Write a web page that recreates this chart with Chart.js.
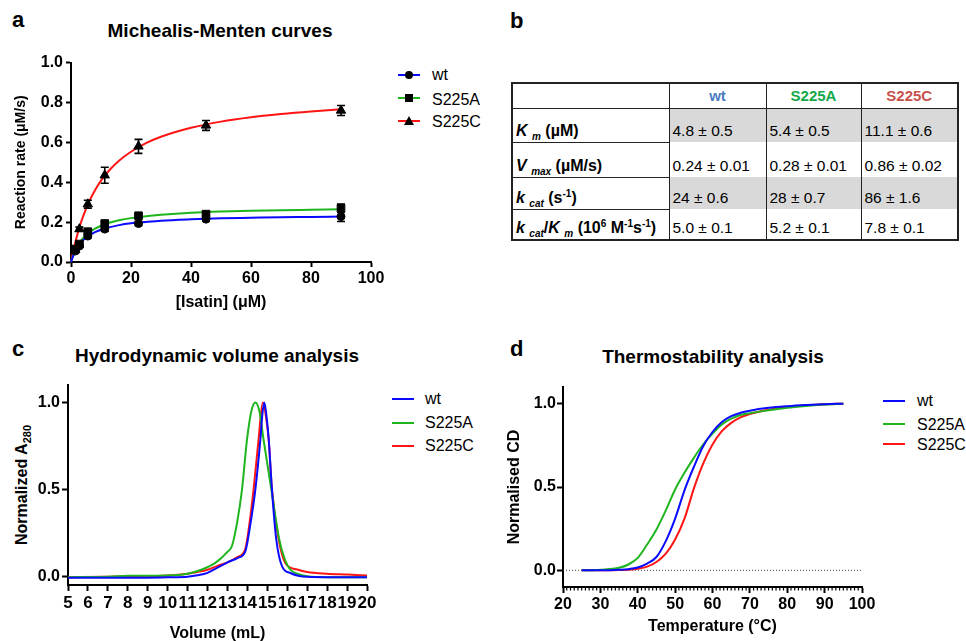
<!DOCTYPE html>
<html><head><meta charset="utf-8">
<script src="https://cdn.jsdelivr.net/npm/chart.js@4.4.0/dist/chart.umd.min.js"></script>
<style>
body{margin:0;width:966px;height:641px;overflow:hidden;background:#fff;position:relative;font-family:'Liberation Sans',Arial,sans-serif;color:#000;}
.abs{position:absolute;white-space:nowrap;}
.plbl{position:absolute;font-weight:bold;font-size:22px;line-height:22px;}
.ttl{position:absolute;font-weight:bold;font-size:19px;line-height:19px;white-space:nowrap;transform:translateX(-50%);}
canvas{position:absolute;}
.legt{position:absolute;font-size:16px;line-height:16px;white-space:nowrap;}
.legl{position:absolute;height:2px;width:22px;}
.mk{position:absolute;background:#000;}
.ytl{position:absolute;font-weight:bold;font-size:16px;line-height:16px;white-space:nowrap;transform:translate(-50%,-50%) rotate(-90deg);}
.ytl sub{font-size:11px;line-height:0;}
table{position:absolute;border-collapse:collapse;table-layout:fixed;font-size:15.5px;}
td{padding:0 0 2px 3px;vertical-align:bottom;white-space:nowrap;border-left:1.5px solid #222;border-right:1.5px solid #222;}
td.lab{border:1.5px solid #222;font-weight:bold;font-size:16px;}
tr.hd td{border:1.5px solid #222;font-weight:bold;font-size:15px;text-align:center;vertical-align:middle;padding:0;}
td.g{background:#d9d9d9;}
.i{font-style:italic;}
td sub,td sup{font-size:10px;line-height:0;}
</style></head>
<body>
<!-- panel letters and titles -->
<div class="plbl" style="left:12px;top:9px;">a</div>
<div class="plbl" style="left:510px;top:10px;">b</div>
<div class="plbl" style="left:12px;top:338px;">c</div>
<div class="plbl" style="left:510px;top:338px;">d</div>
<div class="ttl" style="left:220px;top:21px;">Michealis-Menten curves</div>
<div class="ttl" style="left:217px;top:346px;">Hydrodynamic volume analysis</div>
<div class="ttl" style="left:713px;top:347px;">Thermostability analysis</div>
<div class="ytl" style="left:22px;top:485px;">Normalized A<sub>280</sub></div>

<canvas id="ca" width="382" height="266" style="left:9px;top:50px;"></canvas>
<canvas id="cc" width="379" height="277" style="left:8px;top:370px;"></canvas>
<canvas id="cd" width="381" height="268" style="left:501px;top:372px;"></canvas>

<div id="legs"></div>
<table id="tbl" style="left:511px;top:82px;width:446px;border:2px solid #222;"></table>

<script>
// ---------- Panel a: Michaelis-Menten ----------
const aConc   = [1.4, 2.8, 5.6, 11.25, 22.5, 45, 90];
const aWt     = [0.055, 0.08, 0.13, 0.165, 0.193, 0.215, 0.228];
const aWtErr  = [0.005, 0.005, 0.01, 0.01, 0.01, 0.01, 0.025];
const aS225A  = [0.065, 0.09, 0.152, 0.193, 0.232, 0.24, 0.27];
const aS225AErr = [0.005, 0.005, 0.01, 0.01, 0.01, 0.01, 0.02];
const aS225C  = [0.06, 0.165, 0.29, 0.435, 0.58, 0.685, 0.76];
const aS225CErr = [0.005, 0.01, 0.02, 0.04, 0.035, 0.025, 0.025];
const aFitX   = [0, 1, 2, 3, 4, 6, 8, 10, 13, 16, 20, 25, 30, 40, 50, 60, 70, 80, 90];
const aFitWt  = [0, 0.041, 0.071, 0.092, 0.109, 0.133, 0.150, 0.162, 0.175, 0.185, 0.194, 0.201, 0.207, 0.214, 0.219, 0.222, 0.225, 0.226, 0.228];
const aFitA   = [0, 0.044, 0.076, 0.100, 0.119, 0.147, 0.167, 0.182, 0.198, 0.209, 0.220, 0.230, 0.237, 0.247, 0.253, 0.257, 0.260, 0.262, 0.264];
const aFitC   = [0, 0.071, 0.131, 0.183, 0.228, 0.302, 0.360, 0.408, 0.464, 0.508, 0.553, 0.596, 0.628, 0.673, 0.704, 0.726, 0.742, 0.755, 0.766];
const aXTicks = [0, 20, 40, 60, 80, 100];
const aYTicks = [0, 0.2, 0.4, 0.6, 0.8, 1.0];

// ---------- Panel b: kinetic table ----------
const tblCols = ['wt', 'S225A', 'S225C'];
const tblColColors = ['#4a7cc4', '#12a84a', '#c8504d'];
const tblRowLabels = [
  '<span class="i">K</span> <sub class="i">m</sub> (µM)',
  '<span class="i">V</span> <sub class="i">max</sub> (µM/s)',
  '<span class="i">k</span> <sub class="i">cat</sub> (s<sup>-1</sup>)',
  '<span class="i">k</span> <sub class="i">cat</sub>/<span class="i">K</span> <sub class="i">m</sub> (10<sup>6</sup> M<sup>-1</sup>s<sup>-1</sup>)'
];
const tblKm   = ['4.8 ± 0.5', '5.4 ± 0.5', '11.1 ± 0.6'];
const tblVmax = ['0.24 ± 0.01', '0.28 ± 0.01', '0.86 ± 0.02'];
const tblKcat = ['24 ± 0.6', '28 ± 0.7', '86 ± 1.6'];
const tblEff  = ['5.0 ± 0.1', '5.2 ± 0.1', '7.8 ± 0.1'];

// ---------- Panel c: SEC traces ----------
const cWtX = [5, 7, 9, 10, 11, 11.5, 12, 12.5, 13, 13.5, 13.9, 14.15, 14.4, 14.65, 14.75, 14.85, 14.95, 15.07, 15.23, 15.45, 15.74, 16.15, 16.6, 17, 18, 20];
const cWtY = [-0.008, -0.008, -0.008, -0.006, -0.002, 0.006, 0.02, 0.05, 0.08, 0.105, 0.145, 0.3, 0.5, 0.786, 0.93, 1.0, 0.93, 0.786, 0.5, 0.211, 0.057, 0.019, 0.002, -0.003, -0.005, -0.005];
const cAX  = [5, 7, 8, 10, 11, 11.72, 12.39, 13, 13.23, 13.5, 13.73, 13.98, 14.2, 14.4, 14.6, 14.81, 15.2, 15.6, 15.9, 16.15, 16.5, 17, 18, 20];
const cAY  = [-0.005, -0.003, 0.003, 0.005, 0.015, 0.039, 0.077, 0.14, 0.176, 0.32, 0.5, 0.786, 0.95, 1.0, 0.95, 0.786, 0.5, 0.211, 0.09, 0.039, 0.015, 0.0, -0.005, -0.005];
const cCX  = [5, 7, 8, 10, 11, 11.5, 12, 12.5, 13, 13.5, 13.9, 14.1, 14.31, 14.56, 14.77, 15.0, 15.07, 15.23, 15.57, 15.9, 16.5, 17, 18, 19, 20];
const cCY  = [-0.005, -0.003, 0.0, 0.005, 0.015, 0.025, 0.038, 0.06, 0.08, 0.11, 0.16, 0.3, 0.5, 0.786, 1.0, 0.86, 0.786, 0.5, 0.211, 0.077, 0.039, 0.025, 0.015, 0.01, 0.004];
const cYTicks = [0, 0.5, 1.0];

// ---------- Panel d: thermal melts ----------
const dTemp = [25, 30, 35, 37.5, 40, 42.5, 45, 47.5, 50, 52.5, 55, 57.5, 60, 62.5, 65, 67.5, 70, 75, 80, 85, 90, 95];
const dWt   = [0, 0, 0.003, 0.007, 0.017, 0.04, 0.08, 0.175, 0.31, 0.48, 0.62, 0.745, 0.83, 0.89, 0.925, 0.945, 0.958, 0.975, 0.985, 0.992, 0.997, 1.0];
const dA    = [0, 0.004, 0.015, 0.035, 0.075, 0.155, 0.245, 0.36, 0.485, 0.585, 0.675, 0.755, 0.82, 0.875, 0.91, 0.932, 0.943, 0.96, 0.975, 0.986, 0.995, 1.0];
const dC    = [0, 0, 0.002, 0.004, 0.01, 0.022, 0.05, 0.1, 0.185, 0.31, 0.49, 0.64, 0.755, 0.835, 0.885, 0.918, 0.938, 0.963, 0.98, 0.99, 0.997, 1.0];
const dYTicks = [0, 0.5, 1.0];

const seriesNames = ['wt', 'S225A', 'S225C'];
const COLORS = ['#0a0aff', '#1fb51f', '#ff1414'];
const FONT = "'Liberation Sans', Arial, sans-serif";

// ---------- helpers ----------
const pts = (xs, ys) => xs.map((x, i) => ({x, y: ys[i]}));
function axis(opts) {
  return {
    type: 'linear', min: opts.min, max: opts.max,
    afterFit: opts.fit,
    afterBuildTicks: opts.ticks ? (s) => { s.ticks = opts.ticks.map(v => ({value: v})); } : undefined,
    ticks: {
      stepSize: opts.step, autoSkip: false, maxRotation: 0, padding: opts.pad,
      color: '#000', font: {family: FONT, size: opts.fsize || 16, weight: 'bold'},
      callback: opts.fmt
    },
    grid: {display: true, drawOnChartArea: false, drawTicks: true, tickLength: opts.tl, tickWidth: 2, tickColor: '#000'},
    border: {display: true, color: '#000', width: 2},
    title: {display: opts.title !== '', text: opts.title, color: '#000', font: {family: FONT, size: opts.tsize || 16, weight: 'bold'}}
  };
}
const baseOpts = (pad, scales, plugins) => ({
  responsive: false, animation: false, events: [],
  layout: {padding: pad},
  plugins: Object.assign({legend: {display: false}, tooltip: {enabled: false}}, plugins || {}),
  scales
});

const errorBars = {
  id: 'errorBars',
  afterDatasetsDraw(chart) {
    const ctx = chart.ctx, xs = chart.scales.x, ys = chart.scales.y;
    ctx.save();
    ctx.strokeStyle = '#000'; ctx.lineWidth = 1.6;
    chart.data.datasets.forEach(ds => {
      if (!ds.errors) return;
      ds.data.forEach((p, i) => {
        const e = ds.errors[i];
        const px = xs.getPixelForValue(p.x);
        const y1 = ys.getPixelForValue(p.y + e), y2 = ys.getPixelForValue(p.y - e);
        ctx.beginPath();
        ctx.moveTo(px, y1); ctx.lineTo(px, y2);
        ctx.moveTo(px - 4, y1); ctx.lineTo(px + 4, y1);
        ctx.moveTo(px - 4, y2); ctx.lineTo(px + 4, y2);
        ctx.stroke();
      });
    });
    ctx.restore();
  }
};

const minorTicks = {
  id: 'minorTicks',
  afterDraw(chart) {
    const ctx = chart.ctx, xs = chart.scales.x, b = chart.chartArea.bottom;
    ctx.save(); ctx.strokeStyle = '#000'; ctx.lineWidth = 1.2;
    for (let v = xs.min + 1; v < xs.max; v++) {
      if (v % 10 === 0) continue;
      const px = xs.getPixelForValue(v);
      ctx.beginPath(); ctx.moveTo(px, b); ctx.lineTo(px, b + 3.5); ctx.stroke();
    }
    ctx.restore();
  }
};

const fit = (w, h) => (s) => { if (s.isHorizontal()) s.height = h; else s.width = w; };
const f1 = v => Number(v).toFixed(1);

// ---------- chart a ----------
const aData = [aWt, aS225A, aS225C], aErr = [aWtErr, aS225AErr, aS225CErr], aFits = [aFitWt, aFitA, aFitC];
const aStyles = [['circle', 4], ['rect', 5.4], ['triangle', 5.4]];
const aSets = [];
aData.forEach((ys, k) => aSets.push({
  label: seriesNames[k], data: pts(aConc, ys), errors: aErr[k], showLine: false,
  pointStyle: aStyles[k][0], pointRadius: aStyles[k][1], pointBackgroundColor: '#000', pointBorderColor: '#000', pointBorderWidth: 1,
  order: 0, clip: false
}));
aFits.forEach((ys, k) => aSets.push({
  label: seriesNames[k] + ' fit', data: pts(aFitX, ys), borderColor: COLORS[k], borderWidth: 2, pointRadius: 0,
  cubicInterpolationMode: 'monotone', order: 1, clip: false
}));
new Chart(document.getElementById('ca'), {
  type: 'line', data: {datasets: aSets}, plugins: [errorBars],
  options: baseOpts({top: 12, right: 20, left: 0, bottom: 0}, {
    x: axis({min: 0, max: 100, step: 20, ticks: aXTicks, tl: 5, pad: 2, title: '[Isatin] (μM)', fit: fit(62, 54), fmt: v => String(v)}),
    y: axis({min: 0, max: 1, step: 0.2, ticks: aYTicks, tl: 5, pad: 3, title: 'Reaction rate (μM/s)', tsize: 14, fit: fit(62, 54), fmt: f1})
  })
});

// ---------- chart c ----------
const cSets = [[cWtX, cWtY], [cAX, cAY], [cCX, cCY]].map((s, k) => ({
  label: seriesNames[k], data: pts(s[0], s[1]), borderColor: COLORS[k], borderWidth: 2, pointRadius: 0,
  cubicInterpolationMode: 'monotone', clip: false
}));
new Chart(document.getElementById('cc'), {
  type: 'line', data: {datasets: cSets},
  options: baseOpts({top: 15, right: 20, left: 0, bottom: 0}, {
    x: axis({min: 5, max: 20, step: 1, tl: 6, pad: 2, fsize: 17, title: 'Volume (mL)', fit: fit(60, 62), fmt: v => String(v)}),
    y: axis({min: -0.05, max: 1.1, ticks: cYTicks, tl: 6, pad: 2, title: '', fit: fit(60, 62), fmt: f1})
  })
});

// ---------- chart d ----------
const dSets = [dWt, dA, dC].map((ys, k) => ({
  label: seriesNames[k], data: pts(dTemp, ys), borderColor: COLORS[k], borderWidth: 2, pointRadius: 0,
  cubicInterpolationMode: 'monotone', clip: false
}));
dSets.push({label: 'baseline', data: [{x: 20, y: 0}, {x: 100, y: 0}], borderColor: '#444', borderWidth: 1, borderDash: [1, 2], pointRadius: 0, order: 5});
new Chart(document.getElementById('cd'), {
  type: 'line', data: {datasets: dSets}, plugins: [minorTicks],
  options: baseOpts({top: 15, right: 20, left: 0, bottom: 0}, {
    x: axis({min: 20, max: 100, step: 10, tl: 6, pad: 2, title: 'Temperature (°C)', fit: fit(62, 53), fmt: v => String(v)}),
    y: axis({min: -0.1, max: 1.1, ticks: dYTicks, tl: 6, pad: 1, title: 'Normalised CD', fit: fit(62, 53), fmt: f1})
  })
});

// ---------- legends (HTML) ----------
const legs = document.getElementById('legs');
function legend(lineX, textX, lineYs, textTops, markers) {
  seriesNames.forEach((n, k) => {
    const l = document.createElement('div');
    l.className = 'legl'; l.style.left = lineX + 'px'; l.style.top = (lineYs[k] - 1) + 'px'; l.style.background = COLORS[k];
    legs.appendChild(l);
    if (markers) {
      const m = document.createElement('div');
      const cx = lineX + 11, cy = lineYs[k];
      if (k === 0) { m.className = 'mk'; Object.assign(m.style, {width: '8px', height: '8px', borderRadius: '50%', left: (cx - 4) + 'px', top: (cy - 4) + 'px'}); }
      else if (k === 1) { m.className = 'mk'; Object.assign(m.style, {width: '8px', height: '8px', left: (cx - 4) + 'px', top: (cy - 4) + 'px'}); }
      else { m.className = 'abs'; Object.assign(m.style, {width: 0, height: 0, borderLeft: '5px solid transparent', borderRight: '5px solid transparent', borderBottom: '9px solid #000', left: (cx - 5) + 'px', top: (cy - 5.5) + 'px'}); }
      legs.appendChild(m);
    }
    const t = document.createElement('div');
    t.className = 'legt'; t.textContent = n; t.style.left = textX + 'px'; t.style.top = textTops[k] + 'px';
    legs.appendChild(t);
  });
}
legend(398, 432, [75, 98.3, 121], [67, 91.5, 114], true);
legend(392, 425, [399, 422.7, 446], [390.5, 415, 437.5], false);
legend(883, 917, [400.7, 424, 444.3], [393, 416.5, 436.5], false);

// ---------- table ----------
const tbl = document.getElementById('tbl');
const colW = [157, 97, 95, 97];
const rowH = [25, 34, 35, 32, 31];
let html = '<colgroup>' + colW.map(w => `<col style="width:${w}px">`).join('') + '</colgroup>';
html += `<tr class="hd" style="height:${rowH[0]}px"><td></td>` + tblCols.map((c, i) => `<td style="color:${tblColColors[i]}">${c}</td>`).join('') + '</tr>';
[tblKm, tblVmax, tblKcat, tblEff].forEach((row, r) => {
  const grey = (r === 0 || r === 2) ? ' class="g"' : '';
  html += `<tr style="height:${rowH[r + 1]}px"><td class="lab">${tblRowLabels[r]}</td>` + row.map(v => `<td${grey}>${v}</td>`).join('') + '</tr>';
});
tbl.innerHTML = html;
</script>
</body></html>
